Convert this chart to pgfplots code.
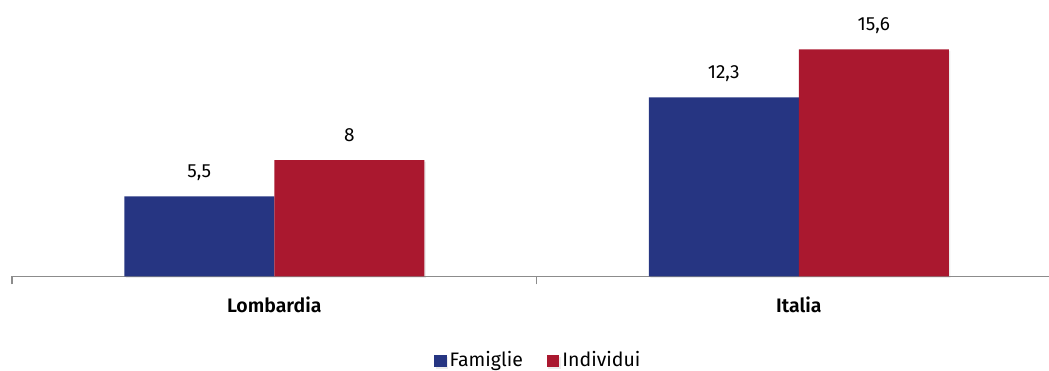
\documentclass[border=0pt]{standalone}
\usepackage{fontspec}
\setmainfont{Fira Sans}
\newfontfamily\fsemi{Fira Sans SemiBold}
\usepackage{pgfplots}
\pgfplotsset{compat=1.18}
\usetikzlibrary{shadows}
\definecolor{famblue}{HTML}{263582}
\definecolor{indred}{HTML}{AA182F}
\definecolor{axgray}{HTML}{8C8C8C}
\begin{document}
\begin{tikzpicture}
\begin{axis}[
  scale only axis,
  width=1037pt, height=276.5pt,
  xmin=-0.5, xmax=1.4771,
  ymin=0, ymax=19,
  ybar=0pt,
  bar width=150pt,
  axis x line=bottom,
  axis y line=none,
  axis line style={draw=axgray, line width=1.2pt, -},
  xtick={0,1},
  xticklabels={{\fsemi Lombardia},{\fsemi Italia}},
  major tick length=0pt,
  minor xtick={-0.5,0.5},
  minor tick length=8pt,
  tick align=outside,
  minor tick style={draw=axgray, line width=1.2pt},
  xticklabel style={anchor=base, yshift=-36pt, font=\fontsize{19.5}{23}\selectfont},
  nodes near coords,
  /pgf/number format/use comma,
  /pgf/number format/assume math mode=true,
  every node near coord/.append style={anchor=base, yshift=19pt, inner sep=0pt, font=\fontsize{19}{23}\selectfont, text=black},
  legend columns=2,
  legend style={at={(0.508,-0.301)}, anchor=center, draw=none, font=\fontsize{19.5}{23}\selectfont,
    nodes={inner xsep=3pt},
    /tikz/every even column/.append style={column sep=21pt}},
  legend image code/.code={\fill[#1] (0pt,-7.5pt) rectangle (12.5pt,4.5pt);},
  clip=false,
]
\addplot[fill=famblue, draw=none, drop shadow={shadow xshift=1.5pt, shadow yshift=-1.5pt, opacity=0.15}] coordinates {(0,5.5) (1,12.3)};
\addplot[fill=indred, draw=none, drop shadow={shadow xshift=1.5pt, shadow yshift=-1.5pt, opacity=0.15}] coordinates {(0,8) (1,15.6)};
\legend{Famiglie, Individui}
\coordinate (bl) at (rel axis cs:0,0);
\coordinate (tr) at (rel axis cs:1,1);
\end{axis}
\pgfresetboundingbox
\path[use as bounding box] (bl) ++(-12pt,-94.5pt) rectangle (tr);
\end{tikzpicture}
\end{document}
